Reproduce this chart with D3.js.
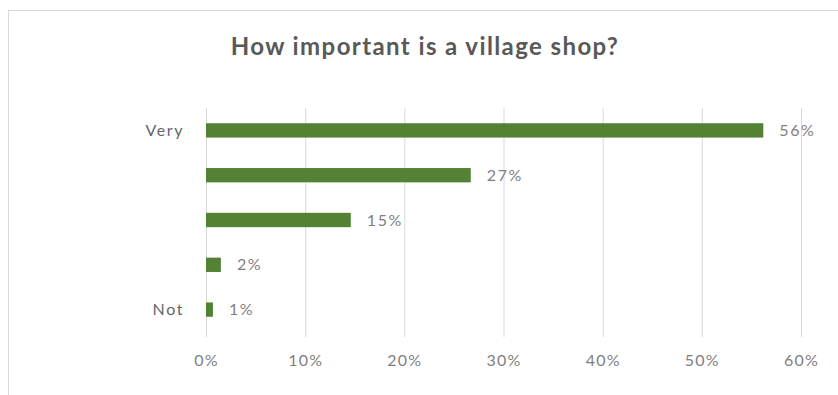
<!DOCTYPE html>
<html>
<head>
<meta charset="utf-8">
<script src="https://cdn.jsdelivr.net/npm/d3@7"></script>
<style>
  body { margin: 0; background: #fff; }
  text { font-family: Lato, "Open Sans", sans-serif; }
</style>
</head>
<body>
<div id="chartContainer"></div>
<script>
// data
var categories = ["Very", "", "", "", "Not"];
var values = [56.2, 26.7, 14.6, 1.5, 0.7];
var valueLabels = ["56%", "27%", "15%", "2%", "1%"];
var ticks = [0, 10, 20, 30, 40, 50, 60];

var W = 838, H = 395;
var margin = { top: 108, bottom: 58, left: 206, right: 37 };
var axisY = 337;

var svg = d3.select("#chartContainer")
  .append("svg")
  .attr("width", W)
  .attr("height", H);

// chart area border
svg.append("rect")
  .attr("x", 8.5)
  .attr("y", 10.5)
  .attr("width", W)
  .attr("height", H)
  .attr("fill", "none")
  .attr("stroke", "#d9d9d9");

var xScale = d3.scaleLinear().domain([0, 60]).range([margin.left, W - margin.right]);
var yScale = d3.scaleBand()
  .domain(d3.range(categories.length))
  .range([margin.top, 332])
  .paddingInner(0.68)
  .paddingOuter(0.34);

// gridlines
svg.append("g")
  .selectAll("line")
  .data(ticks)
  .enter()
  .append("line")
  .attr("x1", d => xScale(d) + 0.5)
  .attr("x2", d => xScale(d) + 0.5)
  .attr("y1", margin.top)
  .attr("y2", axisY)
  .attr("stroke", "#d9d9d9")
  .attr("stroke-width", 1);

// x axis
var xAxis = d3.axisBottom(xScale)
  .tickValues(ticks)
  .tickSize(0)
  .tickPadding(18)
  .tickFormat(d => d + "%");

var gx = svg.append("g")
  .attr("transform", "translate(0," + axisY + ")")
  .call(xAxis);
gx.select(".domain").remove();
gx.selectAll("text")
  .attr("fill", "#7f7f7f")
  .style("font-size", "16px")
  .style("letter-spacing", "1.2px");

// y axis labels
var yAxis = d3.axisLeft(yScale)
  .tickSize(0)
  .tickPadding(22)
  .tickFormat(i => categories[i]);

var gy = svg.append("g")
  .attr("transform", "translate(" + margin.left + ",0)")
  .call(yAxis);
gy.select(".domain").remove();
gy.selectAll("text")
  .attr("fill", "#666")
  .style("font-size", "16px")
  .style("letter-spacing", "1.6px");

// bars
svg.selectAll(".bar")
  .data(values)
  .enter()
  .append("rect")
  .attr("class", "bar")
  .attr("x", xScale(0))
  .attr("y", (d, i) => yScale(i))
  .attr("width", d => xScale(d) - xScale(0))
  .attr("height", yScale.bandwidth())
  .attr("fill", "#548235");

// value labels
svg.selectAll(".val")
  .data(values)
  .enter()
  .append("text")
  .attr("class", "val")
  .attr("x", d => xScale(d) + 16)
  .attr("y", (d, i) => yScale(i) + yScale.bandwidth() / 2)
  .attr("dy", "0.35em")
  .attr("fill", "#7f7f7f")
  .style("font-size", "16px")
  .style("letter-spacing", "1.6px")
  .text((d, i) => valueLabels[i]);

// title
svg.append("text")
  .attr("x", 425)
  .attr("y", 55)
  .attr("text-anchor", "middle")
  .attr("fill", "#595959")
  .style("font-size", "24px")
  .style("font-weight", "bold")
  .style("letter-spacing", "1.4px")
  .text("How important is a village shop?");
</script>
</body>
</html>
